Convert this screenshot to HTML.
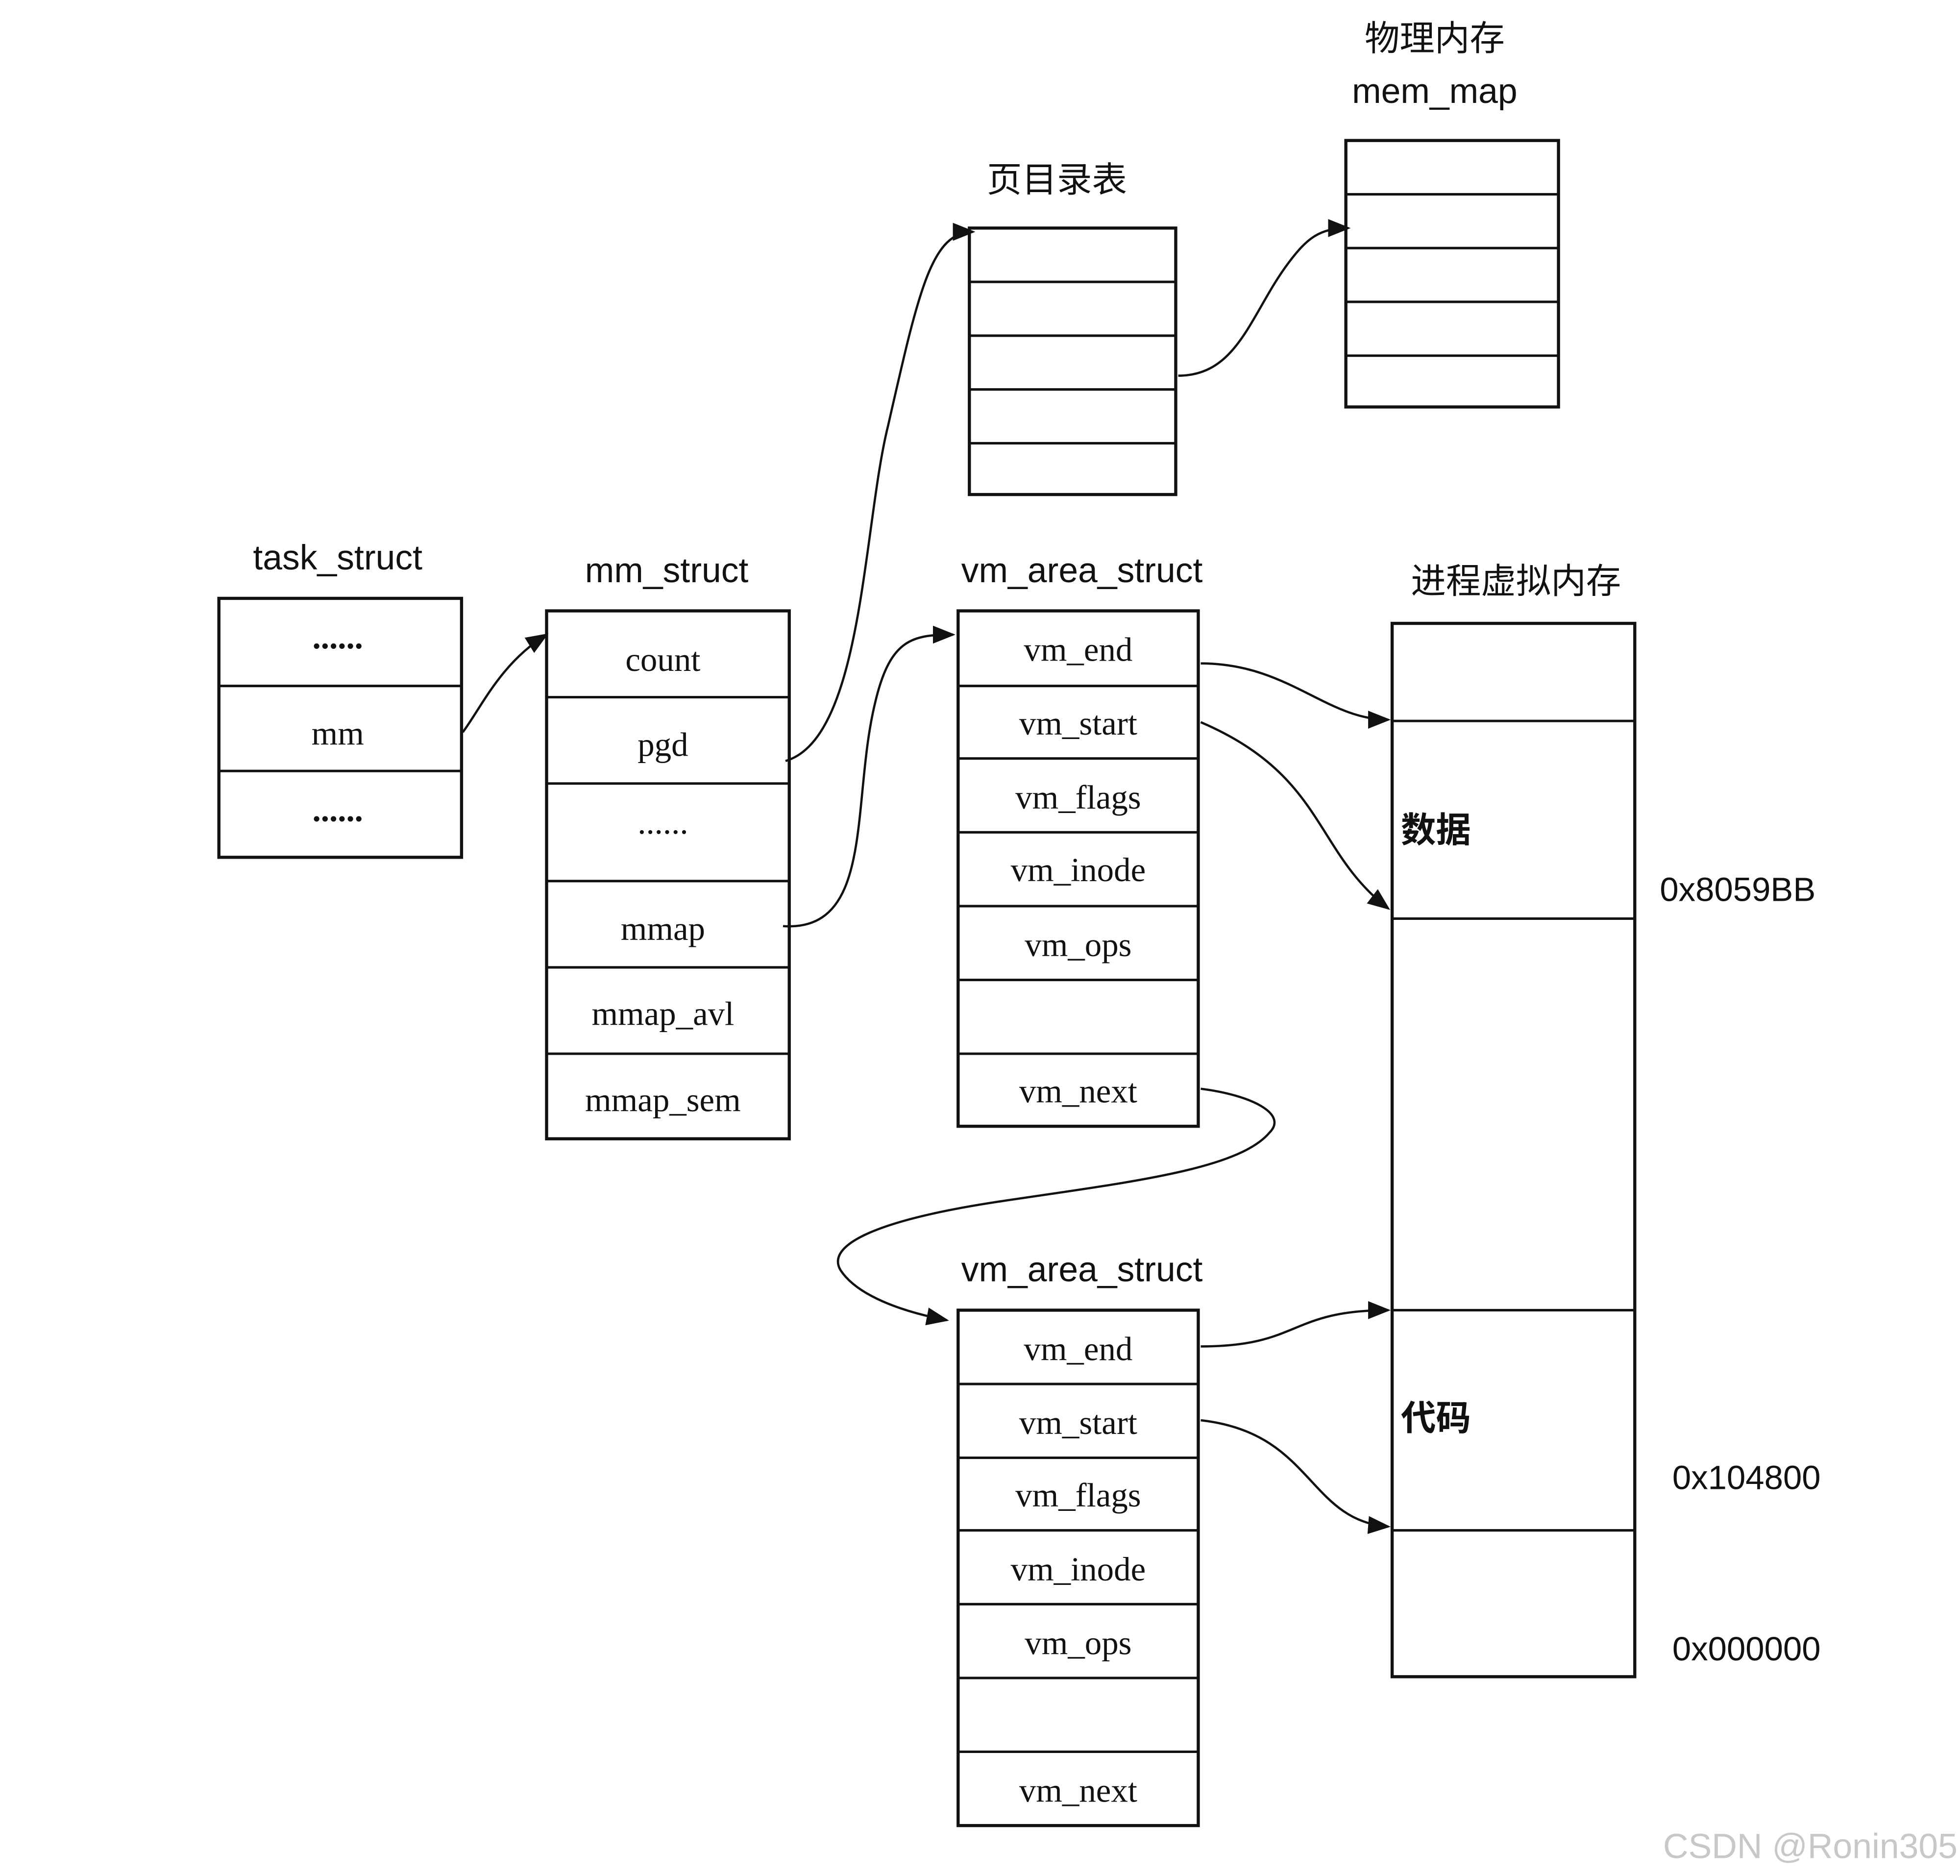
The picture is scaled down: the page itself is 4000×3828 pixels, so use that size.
<!DOCTYPE html>
<html><head><meta charset="utf-8"><style>
html,body{margin:0;padding:0;background:#fff;}
svg{display:block;}
.s{font-family:"Liberation Sans","Noto Sans CJK SC",sans-serif;font-size:28px;fill:#111;text-anchor:middle;}
.t{font-family:"Liberation Serif","Noto Serif CJK SC",serif;font-size:27px;fill:#111;text-anchor:middle;}
.c{font-family:"Liberation Sans","Noto Sans CJK SC",sans-serif;font-size:28px;fill:#111;font-weight:bold;}
.a{font-family:"Liberation Sans",sans-serif;font-size:27px;fill:#111;}
rect{fill:none;stroke:#111;stroke-width:2.5;}
line{stroke:#111;stroke-width:2;}
path.k{fill:none;stroke:#111;stroke-width:1.8;}
</style></head><body>
<svg width="4000" height="3828" viewBox="0 0 1567 1499" xmlns="http://www.w3.org/2000/svg">
<defs><marker id="ar" viewBox="0 0 10 10" refX="9" refY="5" markerWidth="8" markerHeight="8" orient="auto" markerUnits="userSpaceOnUse"><path d="M0,0 L10,5 L0,10 z" fill="#111" transform="scale(1)"/></marker>
<marker id="ab" viewBox="0 0 10 10" refX="9" refY="5" markerWidth="18" markerHeight="18" orient="auto" markerUnits="userSpaceOnUse"><path d="M0,1 L10,5 L0,9 z" fill="#111"/></marker></defs>

<!-- task_struct -->
<text class="s" x="270" y="455">task_struct</text>
<rect x="175" y="478" width="194" height="207"/>
<line x1="175" y1="548" x2="369" y2="548"/><line x1="175" y1="616" x2="369" y2="616"/>
<text class="t" x="270" y="518" font-weight="bold">......</text>
<text class="t" x="270" y="595">mm</text>
<text class="t" x="270" y="656" font-weight="bold">......</text>

<!-- mm_struct -->
<text class="s" x="533" y="465">mm_struct</text>
<rect x="437" y="488" width="194" height="422"/>
<line x1="437" y1="557" x2="631" y2="557"/><line x1="437" y1="626" x2="631" y2="626"/><line x1="437" y1="704" x2="631" y2="704"/><line x1="437" y1="773" x2="631" y2="773"/><line x1="437" y1="842" x2="631" y2="842"/>
<text class="t" x="530" y="536">count</text>
<text class="t" x="530" y="604">pgd</text>
<text class="t" x="530" y="666">......</text>
<text class="t" x="530" y="751">mmap</text>
<text class="t" x="530" y="819">mmap_avl</text>
<text class="t" x="530" y="888">mmap_sem</text>

<!-- vm_area_struct 1 -->
<text class="s" x="865" y="465">vm_area_struct</text>
<rect x="766" y="488" width="192" height="412"/>
<line x1="766" y1="548" x2="958" y2="548"/><line x1="766" y1="606" x2="958" y2="606"/><line x1="766" y1="665" x2="958" y2="665"/><line x1="766" y1="724" x2="958" y2="724"/><line x1="766" y1="783" x2="958" y2="783"/><line x1="766" y1="842" x2="958" y2="842"/>
<text class="t" x="862" y="528">vm_end</text>
<text class="t" x="862" y="587">vm_start</text>
<text class="t" x="862" y="646">vm_flags</text>
<text class="t" x="862" y="704">vm_inode</text>
<text class="t" x="862" y="764">vm_ops</text>
<text class="t" x="862" y="881">vm_next</text>

<!-- vm_area_struct 2 -->
<text class="s" x="865" y="1024">vm_area_struct</text>
<rect x="766" y="1047" width="192" height="412"/>
<line x1="766" y1="1106" x2="958" y2="1106"/><line x1="766" y1="1165" x2="958" y2="1165"/><line x1="766" y1="1223" x2="958" y2="1223"/><line x1="766" y1="1282" x2="958" y2="1282"/><line x1="766" y1="1341" x2="958" y2="1341"/><line x1="766" y1="1400" x2="958" y2="1400"/>
<text class="t" x="862" y="1087">vm_end</text>
<text class="t" x="862" y="1146">vm_start</text>
<text class="t" x="862" y="1204">vm_flags</text>
<text class="t" x="862" y="1263">vm_inode</text>
<text class="t" x="862" y="1322">vm_ops</text>
<text class="t" x="862" y="1440">vm_next</text>

<!-- 页目录表 -->
<text class="s" x="845" y="153">页目录表</text>
<rect x="775" y="182" width="165" height="213"/>
<line x1="775" y1="225" x2="940" y2="225"/><line x1="775" y1="268" x2="940" y2="268"/><line x1="775" y1="311" x2="940" y2="311"/><line x1="775" y1="354" x2="940" y2="354"/>

<!-- mem_map -->
<text class="s" x="1147" y="40">物理内存</text>
<text class="s" x="1147" y="82">mem_map</text>
<rect x="1076" y="112" width="170" height="213"/>
<line x1="1076" y1="155" x2="1246" y2="155"/><line x1="1076" y1="198" x2="1246" y2="198"/><line x1="1076" y1="241" x2="1246" y2="241"/><line x1="1076" y1="284" x2="1246" y2="284"/>

<!-- 进程虚拟内存 -->
<text class="s" x="1212" y="474">进程虚拟内存</text>
<rect x="1113" y="498" width="194" height="842"/>
<line x1="1113" y1="576" x2="1307" y2="576"/><line x1="1113" y1="734" x2="1307" y2="734"/><line x1="1113" y1="1047" x2="1307" y2="1047"/><line x1="1113" y1="1223" x2="1307" y2="1223"/>
<text class="c" x="1120" y="673">数据</text>
<text class="c" x="1120" y="1143">代码</text>
<text class="a" x="1327" y="720">0x8059BB</text>
<text class="a" x="1337" y="1190">0x104800</text>
<text class="a" x="1337" y="1327">0x000000</text>

<!-- connectors -->
<path class="k" d="M370,585 C385,565 400,530 437,507" marker-end="url(#ab)"/>
<path class="k" d="M628,608 C690,590 690,420 710,340 C735,230 745,185 778,185" marker-end="url(#ab)"/>
<path class="k" d="M626,740 C700,745 680,640 700,560 C712,510 730,507 762,507" marker-end="url(#ab)"/>
<path class="k" d="M942,300 C990,300 1000,250 1030,210 C1045,190 1055,182 1078,182" marker-end="url(#ab)"/>
<path class="k" d="M960,530 C1030,530 1060,575 1110,575" marker-end="url(#ab)"/>
<path class="k" d="M960,577 C1060,620 1050,680 1110,726" marker-end="url(#ab)"/>
<path class="k" d="M960,870 C1000,875 1030,890 1015,905 C990,935 900,945 800,960 C700,975 660,995 672,1015 C685,1035 720,1048 757,1055" marker-end="url(#ab)"/>
<path class="k" d="M960,1076 C1040,1076 1030,1047 1110,1047" marker-end="url(#ab)" stroke-width="2.5"/>
<path class="k" d="M960,1135 C1050,1145 1045,1215 1110,1220" marker-end="url(#ab)"/>

<text x="1565" y="1485" font-family="Liberation Sans, sans-serif" font-size="28" fill="#c8c8c8" text-anchor="end">CSDN @Ronin305</text>
</svg>
</body></html>
